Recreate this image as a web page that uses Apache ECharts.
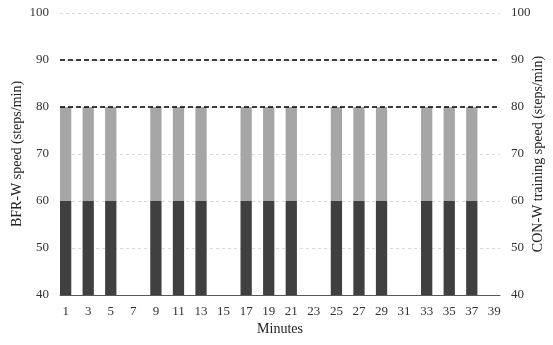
<!DOCTYPE html>
<html><head><meta charset="utf-8">
<script src="https://cdn.jsdelivr.net/npm/echarts@6/dist/echarts.min.js"></script>
<style>html,body{margin:0;padding:0;background:#fff}#c{width:553px;height:345px}</style>
</head><body><div id="c"></div>
<script>
const minutes = ["1","2","3","4","5","6","7","8","9","10","11","12","13","14","15","16","17","18","19","20","21","22","23","24","25","26","27","28","29","30","31","32","33","34","35","36","37","38","39"];
const bfrBase = [60,'-',60,'-',60,'-','-','-',60,'-',60,'-',60,'-','-','-',60,'-',60,'-',60,'-','-','-',60,'-',60,'-',60,'-','-','-',60,'-',60,'-',60,'-','-'];
const bfrTop  = [20,'-',20,'-',20,'-','-','-',20,'-',20,'-',20,'-','-','-',20,'-',20,'-',20,'-','-','-',20,'-',20,'-',20,'-','-','-',20,'-',20,'-',20,'-','-'];
const conSpeed = [80, 90];
const yTicks = {min: 40, max: 100, interval: 10};
const fontFam = "'Liberation Serif', 'DejaVu Serif', serif";
const chart = echarts.init(document.getElementById('c'), null, {renderer: 'canvas'});
const yAxisCommon = {
  type: 'value', min: yTicks.min, max: yTicks.max, interval: yTicks.interval,
  nameLocation: 'middle', nameRotate: 90, nameMoveOverlap: false,
  nameTextStyle: {fontFamily: fontFam, fontSize: 14, color: '#222'},
  axisLine: {show: false}, axisTick: {show: false},
  axisLabel: {fontFamily: fontFam, fontSize: 13, color: '#333', margin: 11},
};
chart.setOption({
  animation: false,
  backgroundColor: '#fff',
  grid: {left: 60, right: 53, top: 13, bottom: 50, containLabel: false, outerBoundsMode: 'none'},
  xAxis: {
    type: 'category', data: minutes,
    name: 'Minutes', nameLocation: 'middle', nameGap: 27, nameMoveOverlap: false,
    nameTextStyle: {fontFamily: fontFam, fontSize: 14, color: '#222'},
    axisLine: {lineStyle: {color: '#595959', width: 1}},
    axisTick: {show: false},
    axisLabel: {interval: 1, fontFamily: fontFam, fontSize: 13, color: '#333', margin: 10},
    splitLine: {show: false}
  },
  yAxis: [
    Object.assign({}, yAxisCommon, {
      name: 'BFR-W speed (steps/min)', nameGap: 36, position: 'left',
      splitLine: {show: true, lineStyle: {color: '#d9d9d9', type: [3, 3], width: 1}}
    }),
    Object.assign({}, yAxisCommon, {
      name: 'CON-W training speed (steps/min)', nameGap: 31, position: 'right',
      nameRotate: 90,
      splitLine: {show: false}
    })
  ],
  series: [
    {
      type: 'bar', stack: 'bfr', data: bfrBase, barCategoryGap: '0%', barWidth: '100%',
      itemStyle: {color: '#404040'}, z: 2,
      markLine: {
        silent: true, symbol: 'none', label: {show: false},
        lineStyle: {color: '#000', type: [5, 3], width: 1.5},
        data: conSpeed.map(v => ({yAxis: v}))
      }
    },
    {
      type: 'bar', stack: 'bfr', data: bfrTop, barCategoryGap: '0%', barWidth: '100%',
      itemStyle: {color: '#a6a6a6'}, z: 2
    }
  ]
});
</script></body></html>
